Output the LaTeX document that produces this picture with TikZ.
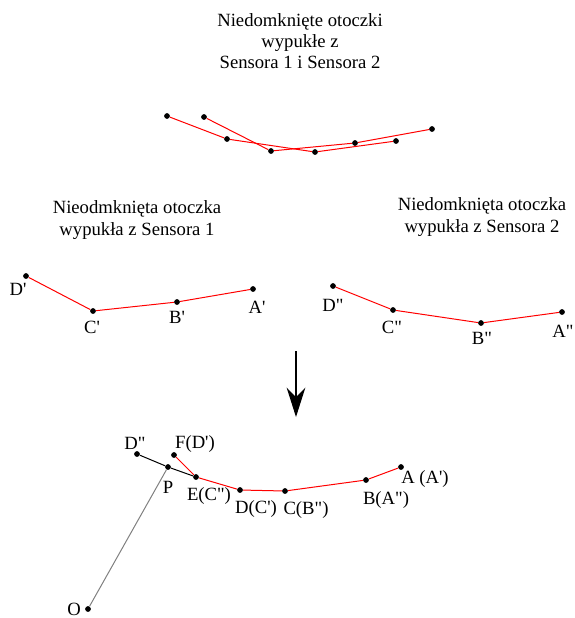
\documentclass[tikz,border=0pt]{standalone}
\usepackage{fontspec}
\setmainfont{Liberation Serif}[Ligatures=TeXOff]
\usetikzlibrary{arrows.meta, positioning, calc}

\begin{document}
\begin{tikzpicture}[
    x=0.75pt, y=-0.75pt,
    pt/.style={circle, fill=black, inner sep=0pt, minimum size=4.3pt},
    lbl/.style={font=\fontsize{14}{16}\selectfont, inner sep=1pt},
    caption/.style={font=\fontsize{14}{16}\selectfont, align=center, inner sep=0pt},
    hull/.style={red, line width=0.75pt},
    seg/.style={black, line width=0.75pt},
    ray/.style={gray, line width=0.75pt},
    arr/.style={-{Stealth[length=22pt, width=14pt]}, line width=0.8pt},
]
\useasboundingbox (0,0) rectangle (575,618);

% captions
\node[caption] (title) at (300,41) {Niedomknięte otoczki\\wypukłe z\\Sensora 1 i Sensora 2};
\node[caption] (cap1) at (137,220) {Nieodmknięta otoczka\\wypukła z Sensora 1};
\node[caption] (cap2) at (482,217) {Niedomknięta otoczka\\wypukła z Sensora 2};

% both open hulls together
\node[pt] (s1a) at (167,116) {};
\node[pt] (s1b) at (227,139) {};
\node[pt] (s1c) at (315,152) {};
\node[pt] (s1d) at (396,141) {};
\node[pt] (s2a) at (204,117) {};
\node[pt] (s2b) at (271,151) {};
\node[pt] (s2c) at (355,143) {};
\node[pt] (s2d) at (432,129) {};
\draw[hull] (s1a) -- (s1b) -- (s1c) -- (s1d);
\draw[hull] (s2a) -- (s2b) -- (s2c) -- (s2d);

% sensor 1
\node[pt] (D1) at (26,276) {};
\node[pt] (C1) at (93,311) {};
\node[pt] (B1) at (177,302) {};
\node[pt] (A1) at (253,289) {};
\draw[hull] (D1) -- (C1) -- (B1) -- (A1);
\node[lbl] (lD1) at ($(D1)+(-8,13)$) {D'};
\node[lbl] (lC1) at ($(C1)+(-1,16)$) {C'};
\node[lbl] (lB1) at ($(B1)+(0,15)$) {B'};
\node[lbl] (lA1) at ($(A1)+(4,18)$) {A'};

% sensor 2
\node[pt] (D2) at (333,286) {};
\node[pt] (C2) at (393,310) {};
\node[pt] (B2) at (481,323) {};
\node[pt] (A2) at (562,312) {};
\draw[hull] (D2) -- (C2) -- (B2) -- (A2);
\node[lbl] (lD2) at ($(D2)+(0,19)$) {D"};
\node[lbl] (lC2) at ($(C2)+(-1,17)$) {C"};
\node[lbl] (lB2) at ($(B2)+(1,15)$) {B"};
\node[lbl] (lA2) at ($(A2)+(1,19)$) {A"};

\coordinate (arrTop) at (296,351);
\coordinate (arrTip) at (296,417);
\draw[arr] (arrTop) -- (arrTip);

% merged hull
\node[pt] (Dm) at (137,454) {};
\node[pt] (Fm) at (174,455) {};
\node[pt] (Pm) at (168,467) {};
\node[pt] (Em) at (196,477) {};
\node[pt] (Cm) at (240,490) {};
\node[pt] (Bm) at (285,491) {};
\node[pt] (Am) at (366,480) {};
\node[pt] (Zm) at (401,467) {};
\node[pt] (Om) at (88,609) {};
\draw[ray] (Om) -- (Pm);
\draw[seg] (Dm) -- (Pm) -- (Em);
\draw[hull] (Fm) -- (Em) -- (Cm) -- (Bm) -- (Am) -- (Zm);
\node[lbl] (lDm) at ($(Dm)+(-2,-11)$) {D"};
\node[lbl] (lFm) at ($(Fm)+(21,-11)$) {F(D')};
\node[lbl] (lPm) at ($(Pm)+(0,20)$) {P};
\node[lbl] (lEm) at ($(Em)+(13,19)$) {E(C")};
\node[lbl] (lCm) at ($(Cm)+(16,19)$) {D(C')};
\node[lbl] (lBm) at ($(Bm)+(21,19)$) {C(B")};
\node[lbl] (lAm) at ($(Am)+(20,20)$) {B(A")};
\node[lbl] (lZm) at ($(Zm)+(24,12)$) {A (A')};
\node[lbl] (lOm) at ($(Om)+(-14,0)$) {O};

\end{tikzpicture}
\end{document}
